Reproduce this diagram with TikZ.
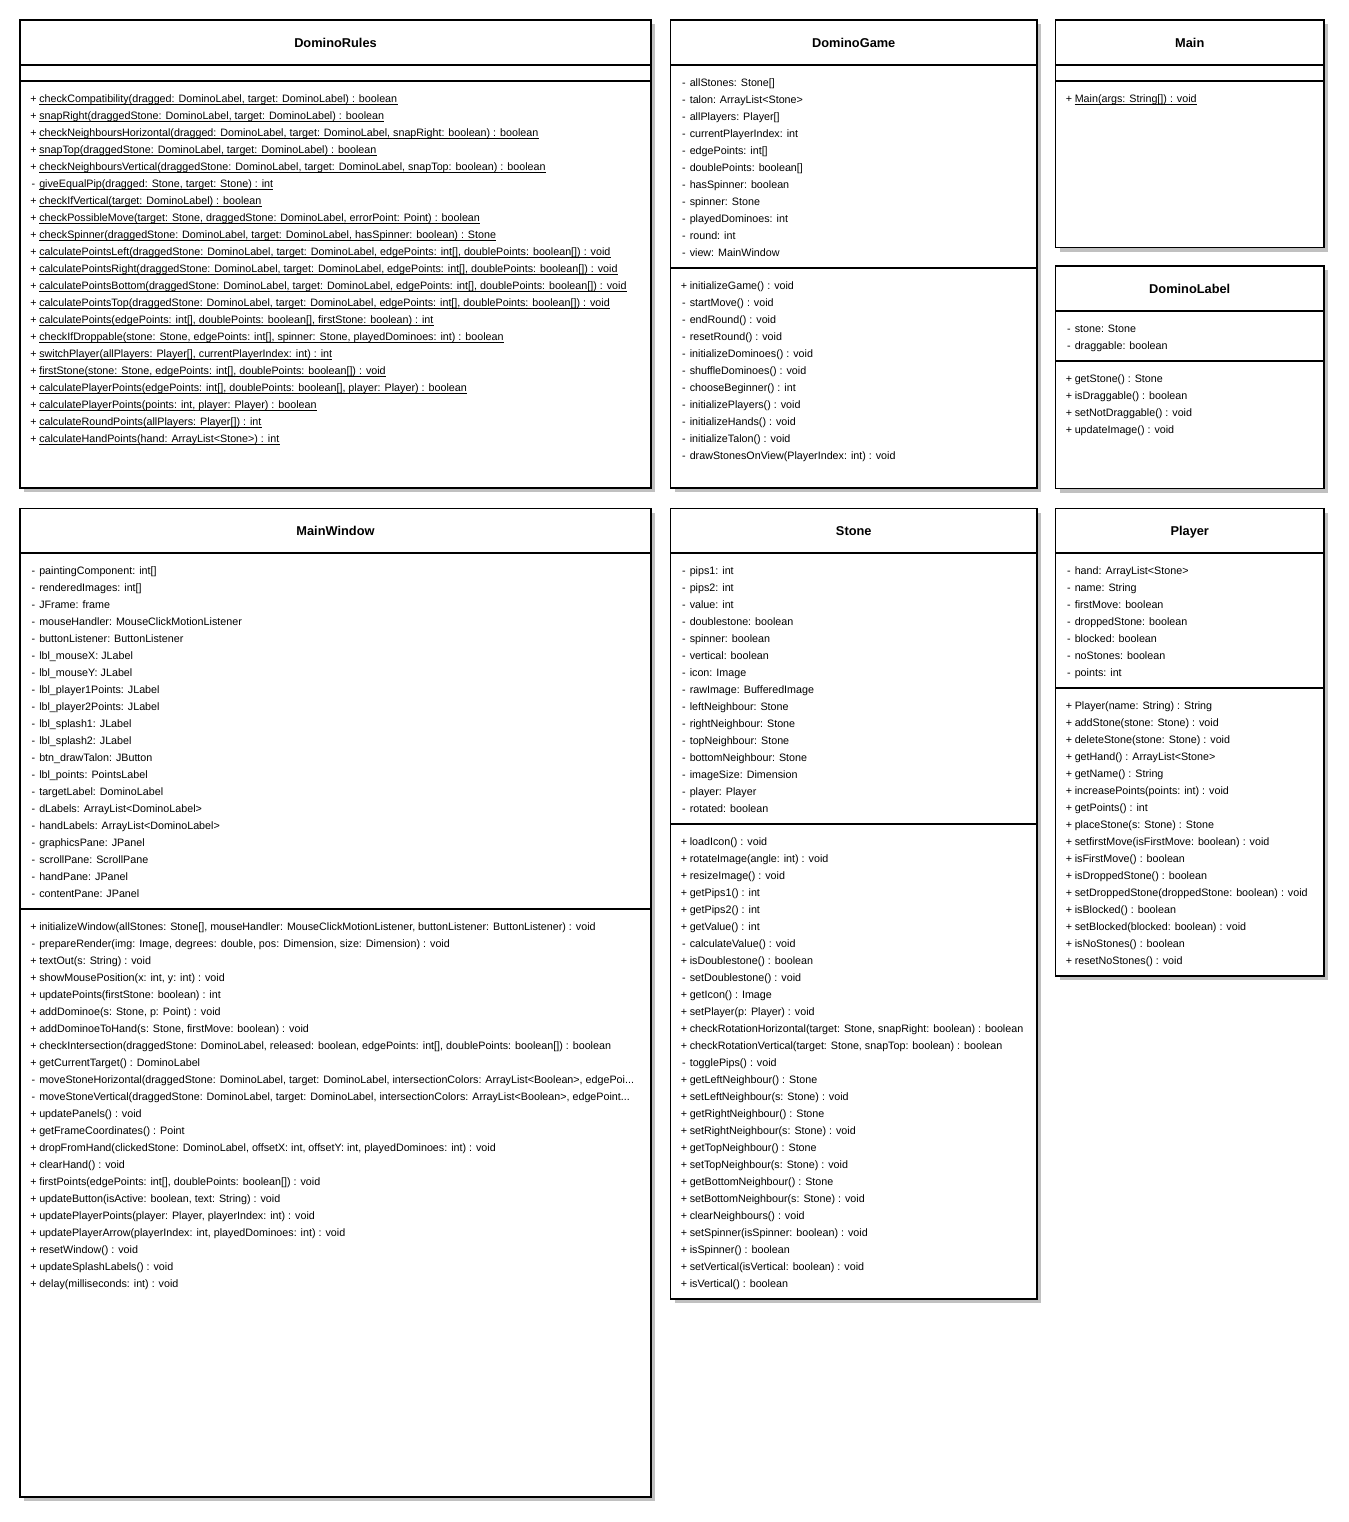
\documentclass[tikz,border=0pt]{standalone}
\usepackage{fontspec}
\setmainfont{Liberation Sans}
\usetikzlibrary{shadows}
\definecolor{shadowgray}{RGB}{192,192,192}
\newcommand\cutoff{...}
\tikzset{
  classbox/.style={draw=black, line width=1pt, fill=white, anchor=north west,
    inner sep=0pt, outer sep=0pt,
    drop shadow={shadow xshift=3pt, shadow yshift=-3pt, opacity=1, fill=shadowgray}},
  sepline/.style={draw=black, line width=0.8pt},
  classtitle/.style={anchor=base, inner sep=0pt, font=\fontsize{9.6pt}{11pt}\selectfont\bfseries},
  vis/.style={anchor=base, inner sep=0pt, font=\fontsize{8.05pt}{10pt}\selectfont},
  member/.style={anchor=base west, inner sep=0pt, font=\fontsize{8.05pt}{10pt}\selectfont},
  uline/.style={line width=0.7pt},
}
% class box: name, left, top, right, bottom (pixel units, y downwards)
\newcommand\classbox[5]{%
  \node[classbox, minimum width={(#4-#2)*0.75pt}, minimum height={(#5-#3)*0.75pt}] (#1) at (#2,#3) {};}
% horizontal compartment separator at a given y
\newcommand\compsep[2]{\draw[sepline] (#1.west |- 0,#2) -- (#1.east |- 0,#2);}
% list of members: prefix, box left, first line y, items sym/underline/text
\newcommand\memberlist[4]{%
  \foreach \vsym/\uflag/\mtext [count=\i] in {#4} {%
    \pgfmathsetmacro\yy{#3+(\i-1)*17+4}%
    \node[vis] (#1-v\i) at (#2+13.5,\yy) {\vsym};%
    \node[member] (#1-\i) at (#2+19,\yy) {\mtext};%
    \ifnum\uflag=1 \draw[uline] ([yshift=-1.6pt]#1-\i.base west) -- ([yshift=-1.6pt]#1-\i.base east);\fi
  }%
}
\begin{document}
\begin{tikzpicture}[x=0.75pt, y=-0.75pt]
\fill[white] (0,0) rectangle (1349,1522);
\useasboundingbox (0,0) rectangle (1349,1522);

% ---------------- DominoRules ----------------
\classbox{rules}{20}{20}{651}{488}
\compsep{rules}{65}
\compsep{rules}{81}
\node[classtitle] (rules-t) at (335.5,47) {DominoRules};
\memberlist{rules-op}{20}{98}{
  +/1/{checkCompatibility(dragged: DominoLabel, target: DominoLabel) : boolean},
  +/1/{snapRight(draggedStone: DominoLabel, target: DominoLabel) : boolean},
  +/1/{checkNeighboursHorizontal(dragged: DominoLabel, target: DominoLabel, snapRight: boolean) : boolean},
  +/1/{snapTop(draggedStone: DominoLabel, target: DominoLabel) : boolean},
  +/1/{checkNeighboursVertical(draggedStone: DominoLabel, target: DominoLabel, snapTop: boolean) : boolean},
  -/1/{giveEqualPip(dragged: Stone, target: Stone) : int},
  +/1/{checkIfVertical(target: DominoLabel) : boolean},
  +/1/{checkPossibleMove(target: Stone, draggedStone: DominoLabel, errorPoint: Point) : boolean},
  +/1/{checkSpinner(draggedStone: DominoLabel, target: DominoLabel, hasSpinner: boolean) : Stone},
  +/1/{calculatePointsLeft(draggedStone: DominoLabel, target: DominoLabel, edgePoints: int[], doublePoints: boolean[]) : void},
  +/1/{calculatePointsRight(draggedStone: DominoLabel, target: DominoLabel, edgePoints: int[], doublePoints: boolean[]) : void},
  +/1/{calculatePointsBottom(draggedStone: DominoLabel, target: DominoLabel, edgePoints: int[], doublePoints: boolean[]) : void},
  +/1/{calculatePointsTop(draggedStone: DominoLabel, target: DominoLabel, edgePoints: int[], doublePoints: boolean[]) : void},
  +/1/{calculatePoints(edgePoints: int[], doublePoints: boolean[], firstStone: boolean) : int},
  +/1/{checkIfDroppable(stone: Stone, edgePoints: int[], spinner: Stone, playedDominoes: int) : boolean},
  +/1/{switchPlayer(allPlayers: Player[], currentPlayerIndex: int) : int},
  +/1/{firstStone(stone: Stone, edgePoints: int[], doublePoints: boolean[]) : void},
  +/1/{calculatePlayerPoints(edgePoints: int[], doublePoints: boolean[], player: Player) : boolean},
  +/1/{calculatePlayerPoints(points: int, player: Player) : boolean},
  +/1/{calculateRoundPoints(allPlayers: Player[]) : int},
  +/1/{calculateHandPoints(hand: ArrayList<Stone>) : int}}

% ---------------- DominoGame ----------------
\classbox{game}{670.5}{20}{1037}{488}
\compsep{game}{65}
\compsep{game}{268}
\node[classtitle] (game-t) at (853.75,47) {DominoGame};
\memberlist{game-at}{670.5}{82}{
  -/0/{allStones: Stone[]},
  -/0/{talon: ArrayList<Stone>},
  -/0/{allPlayers: Player[]},
  -/0/{currentPlayerIndex: int},
  -/0/{edgePoints: int[]},
  -/0/{doublePoints: boolean[]},
  -/0/{hasSpinner: boolean},
  -/0/{spinner: Stone},
  -/0/{playedDominoes: int},
  -/0/{round: int},
  -/0/{view: MainWindow}}
\memberlist{game-op}{670.5}{285}{
  +/0/{initializeGame() : void},
  -/0/{startMove() : void},
  -/0/{endRound() : void},
  -/0/{resetRound() : void},
  -/0/{initializeDominoes() : void},
  -/0/{shuffleDominoes() : void},
  -/0/{chooseBeginner() : int},
  -/0/{initializePlayers() : void},
  -/0/{initializeHands() : void},
  -/0/{initializeTalon() : void},
  -/0/{drawStonesOnView(PlayerIndex: int) : void}}

% ---------------- Main ----------------
\classbox{mainc}{1055.5}{20}{1324}{247.5}
\compsep{mainc}{65}
\compsep{mainc}{81}
\node[classtitle] (mainc-t) at (1189.75,47) {Main};
\memberlist{mainc-op}{1055.5}{98}{
  +/1/{Main(args: String[]) : void}}

% ---------------- DominoLabel ----------------
\classbox{dlabel}{1055.5}{266}{1324}{488.5}
\compsep{dlabel}{311}
\compsep{dlabel}{361}
\node[classtitle] (dlabel-t) at (1189.75,293) {DominoLabel};
\memberlist{dlabel-at}{1055.5}{328}{
  -/0/{stone: Stone},
  -/0/{draggable: boolean}}
\memberlist{dlabel-op}{1055.5}{378}{
  +/0/{getStone() : Stone},
  +/0/{isDraggable() : boolean},
  +/0/{setNotDraggable() : void},
  +/0/{updateImage() : void}}

% ---------------- MainWindow ----------------
\classbox{mwin}{20}{508.5}{651}{1497}
\compsep{mwin}{553}
\compsep{mwin}{909}
\node[classtitle] (mwin-t) at (335.5,535) {MainWindow};
\memberlist{mwin-at}{20}{570}{
  -/0/{paintingComponent: int[]},
  -/0/{renderedImages: int[]},
  -/0/{JFrame: frame},
  -/0/{mouseHandler: MouseClickMotionListener},
  -/0/{buttonListener: ButtonListener},
  -/0/{lbl\_mouseX: JLabel},
  -/0/{lbl\_mouseY: JLabel},
  -/0/{lbl\_player1Points: JLabel},
  -/0/{lbl\_player2Points: JLabel},
  -/0/{lbl\_splash1: JLabel},
  -/0/{lbl\_splash2: JLabel},
  -/0/{btn\_drawTalon: JButton},
  -/0/{lbl\_points: PointsLabel},
  -/0/{targetLabel: DominoLabel},
  -/0/{dLabels: ArrayList<DominoLabel>},
  -/0/{handLabels: ArrayList<DominoLabel>},
  -/0/{graphicsPane: JPanel},
  -/0/{scrollPane: ScrollPane},
  -/0/{handPane: JPanel},
  -/0/{contentPane: JPanel}}
\memberlist{mwin-op}{20}{926}{
  +/0/{initializeWindow(allStones: Stone[], mouseHandler: MouseClickMotionListener, buttonListener: ButtonListener) : void},
  -/0/{prepareRender(img: Image, degrees: double, pos: Dimension, size: Dimension) : void},
  +/0/{textOut(s: String) : void},
  +/0/{showMousePosition(x: int, y: int) : void},
  +/0/{updatePoints(firstStone: boolean) : int},
  +/0/{addDominoe(s: Stone, p: Point) : void},
  +/0/{addDominoeToHand(s: Stone, firstMove: boolean) : void},
  +/0/{checkIntersection(draggedStone: DominoLabel, released: boolean, edgePoints: int[], doublePoints: boolean[]) : boolean},
  +/0/{getCurrentTarget() : DominoLabel},
  -/0/{moveStoneHorizontal(draggedStone: DominoLabel, target: DominoLabel, intersectionColors: ArrayList<Boolean>, edgePoi\cutoff},
  -/0/{moveStoneVertical(draggedStone: DominoLabel, target: DominoLabel, intersectionColors: ArrayList<Boolean>, edgePoint\cutoff},
  +/0/{updatePanels() : void},
  +/0/{getFrameCoordinates() : Point},
  +/0/{dropFromHand(clickedStone: DominoLabel, offsetX: int, offsetY: int, playedDominoes: int) : void},
  +/0/{clearHand() : void},
  +/0/{firstPoints(edgePoints: int[], doublePoints: boolean[]) : void},
  +/0/{updateButton(isActive: boolean, text: String) : void},
  +/0/{updatePlayerPoints(player: Player, playerIndex: int) : void},
  +/0/{updatePlayerArrow(playerIndex: int, playedDominoes: int) : void},
  +/0/{resetWindow() : void},
  +/0/{updateSplashLabels() : void},
  +/0/{delay(milliseconds: int) : void}}

% ---------------- Stone ----------------
\classbox{stone}{670.5}{508.5}{1037}{1299}
\compsep{stone}{553}
\compsep{stone}{824}
\node[classtitle] (stone-t) at (853.75,535) {Stone};
\memberlist{stone-at}{670.5}{570}{
  -/0/{pips1: int},
  -/0/{pips2: int},
  -/0/{value: int},
  -/0/{doublestone: boolean},
  -/0/{spinner: boolean},
  -/0/{vertical: boolean},
  -/0/{icon: Image},
  -/0/{rawImage: BufferedImage},
  -/0/{leftNeighbour: Stone},
  -/0/{rightNeighbour: Stone},
  -/0/{topNeighbour: Stone},
  -/0/{bottomNeighbour: Stone},
  -/0/{imageSize: Dimension},
  -/0/{player: Player},
  -/0/{rotated: boolean}}
\memberlist{stone-op}{670.5}{841}{
  +/0/{loadIcon() : void},
  +/0/{rotateImage(angle: int) : void},
  +/0/{resizeImage() : void},
  +/0/{getPips1() : int},
  +/0/{getPips2() : int},
  +/0/{getValue() : int},
  -/0/{calculateValue() : void},
  +/0/{isDoublestone() : boolean},
  -/0/{setDoublestone() : void},
  +/0/{getIcon() : Image},
  +/0/{setPlayer(p: Player) : void},
  +/0/{checkRotationHorizontal(target: Stone, snapRight: boolean) : boolean},
  +/0/{checkRotationVertical(target: Stone, snapTop: boolean) : boolean},
  -/0/{togglePips() : void},
  +/0/{getLeftNeighbour() : Stone},
  +/0/{setLeftNeighbour(s: Stone) : void},
  +/0/{getRightNeighbour() : Stone},
  +/0/{setRightNeighbour(s: Stone) : void},
  +/0/{getTopNeighbour() : Stone},
  +/0/{setTopNeighbour(s: Stone) : void},
  +/0/{getBottomNeighbour() : Stone},
  +/0/{setBottomNeighbour(s: Stone) : void},
  +/0/{clearNeighbours() : void},
  +/0/{setSpinner(isSpinner: boolean) : void},
  +/0/{isSpinner() : boolean},
  +/0/{setVertical(isVertical: boolean) : void},
  +/0/{isVertical() : boolean}}

% ---------------- Player ----------------
\classbox{player}{1055.5}{508.5}{1324}{976}
\compsep{player}{553}
\compsep{player}{688}
\node[classtitle] (player-t) at (1189.75,535) {Player};
\memberlist{player-at}{1055.5}{570}{
  -/0/{hand: ArrayList<Stone>},
  -/0/{name: String},
  -/0/{firstMove: boolean},
  -/0/{droppedStone: boolean},
  -/0/{blocked: boolean},
  -/0/{noStones: boolean},
  -/0/{points: int}}
\memberlist{player-op}{1055.5}{705}{
  +/0/{Player(name: String) : String},
  +/0/{addStone(stone: Stone) : void},
  +/0/{deleteStone(stone: Stone) : void},
  +/0/{getHand() : ArrayList<Stone>},
  +/0/{getName() : String},
  +/0/{increasePoints(points: int) : void},
  +/0/{getPoints() : int},
  +/0/{placeStone(s: Stone) : Stone},
  +/0/{setfirstMove(isFirstMove: boolean) : void},
  +/0/{isFirstMove() : boolean},
  +/0/{isDroppedStone() : boolean},
  +/0/{setDroppedStone(droppedStone: boolean) : void},
  +/0/{isBlocked() : boolean},
  +/0/{setBlocked(blocked: boolean) : void},
  +/0/{isNoStones() : boolean},
  +/0/{resetNoStones() : void}}
\end{tikzpicture}
\end{document}
